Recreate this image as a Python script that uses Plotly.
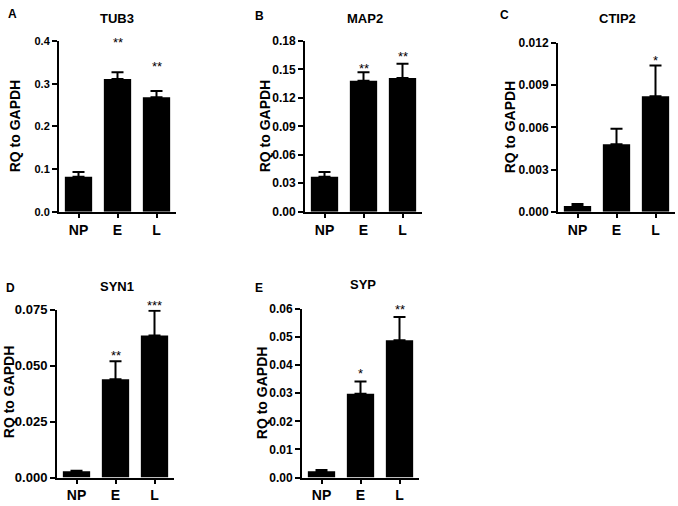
import plotly.graph_objects as go

categories = ["NP", "E", "L"]

genes = ["TUB3", "MAP2", "CTIP2", "SYN1", "SYP"]
letters = ["A", "B", "C", "D", "E"]

tub3_mean = [0.082, 0.311, 0.268]
tub3_top = [0.093, 0.327, 0.283]
map2_mean = [0.037, 0.138, 0.141]
map2_top = [0.042, 0.147, 0.156]
ctip2_mean = [0.0004, 0.0048, 0.0082]
ctip2_top = [0.00055, 0.0059, 0.0104]
syn1_mean = [0.0028, 0.044, 0.0635]
syn1_top = [0.0031, 0.052, 0.0745]
syp_mean = [0.0023, 0.0298, 0.0488]
syp_top = [0.0027, 0.0342, 0.0571]

tub3_stars = ["", "**", "**"]
map2_stars = ["", "**", "**"]
ctip2_stars = ["", "", "*"]
syn1_stars = ["", "**", "***"]
syp_stars = ["", "*", "**"]

# star label heights (data units)
tub3_star_y = [0, 0.400, 0.345]
map2_star_y = [0, 0.153, 0.166]
ctip2_star_y = [0, 0, 0.0109]
syn1_star_y = [0, 0.0555, 0.078]
syp_star_y = [0, 0.0376, 0.0603]

tub3_ticks = [0.0, 0.1, 0.2, 0.3, 0.4]
map2_ticks = [0.00, 0.03, 0.06, 0.09, 0.12, 0.15, 0.18]
ctip2_ticks = [0.000, 0.003, 0.006, 0.009, 0.012]
syn1_ticks = [0.000, 0.025, 0.050, 0.075]
syp_ticks = [0.00, 0.01, 0.02, 0.03, 0.04, 0.05, 0.06]

means = [tub3_mean, map2_mean, ctip2_mean, syn1_mean, syp_mean]
tops = [tub3_top, map2_top, ctip2_top, syn1_top, syp_top]
stars = [tub3_stars, map2_stars, ctip2_stars, syn1_stars, syp_stars]
star_ys = [tub3_star_y, map2_star_y, ctip2_star_y, syn1_star_y, syp_star_y]
ticks = [tub3_ticks, map2_ticks, ctip2_ticks, syn1_ticks, syp_ticks]
fmts = [".1f", ".2f", ".3f", ".3f", ".2f"]
tick_sizes = [11, 12, 12, 13, 12]

W, H = 678, 506
# panel boxes in pixels: (x0, x1, ytop, ybottom)
boxes = [(59, 176, 35, 211), (305, 422, 35, 211), (558, 675, 37, 211),
         (57, 174, 312, 485), (302, 419, 311, 485)]
title_pos = [(117, 12), (365, 12), (617, 12), (117, 288), (363, 286)]
letter_pos = [(12, 7), (259, 9), (504, 8), (10, 290), (259, 290)]
ytitle_pos = [(15, 123), (265, 123), (510, 123), (9, 397), (262, 398)]

FONT = "Liberation Sans"
fig = go.Figure()
annotations = []
for i in range(5):
    n = "" if i == 0 else str(i + 1)
    xa, ya = "x" + n, "y" + n
    err_plus = [t - m for t, m in zip(tops[i], means[i])]
    fig.add_trace(go.Bar(
        x=categories, y=means[i], xaxis=xa, yaxis=ya,
        marker=dict(color="black", line=dict(width=0)), width=0.7,
        error_y=dict(type="data", symmetric=False, array=err_plus,
                     arrayminus=[0, 0, 0], color="black", thickness=2, width=6),
        showlegend=False, hoverinfo="skip"))
    ymax = ticks[i][-1]
    for c, s, sy in zip(categories, stars[i], star_ys[i]):
        if s:
            annotations.append(dict(x=c, y=sy / ymax, xref=xa, yref=ya + " domain",
                                    xanchor="center", yanchor="middle",
                                    text=s, showarrow=False, yshift=-2,
                                    font=dict(family=FONT, size=13, color="black")))
    x0, x1, yt, yb = boxes[i]
    fig.layout["xaxis" + n] = dict(
        domain=[x0 / W, x1 / W], anchor=ya, range=[-0.5, 2.5],
        showline=True, linecolor="black", linewidth=2, ticks="outside",
        ticklen=4, tickwidth=2, tickcolor="black",
        showgrid=False, zeroline=False,
        tickfont=dict(family=FONT, size=14, color="black", weight="bold"),
        fixedrange=True)
    fig.layout["yaxis" + n] = dict(
        domain=[1 - yb / H, 1 - yt / H], anchor=xa,
        range=[0, ymax], tickvals=ticks[i], tickformat=fmts[i],
        showline=True, linecolor="black", linewidth=2, ticks="outside",
        ticklen=5, tickwidth=2, tickcolor="black", showgrid=False,
        zeroline=False, fixedrange=True,
        tickfont=dict(family=FONT, size=tick_sizes[i], color="black", weight="bold"))
    tx, ty = title_pos[i]
    annotations.append(dict(x=tx / W, y=1 - ty / H, xref="paper", yref="paper",
                            xanchor="center", yanchor="middle",
                            text=genes[i], showarrow=False,
                            font=dict(family=FONT, size=13, color="black", weight="bold")))
    lx, ly = letter_pos[i]
    annotations.append(dict(x=lx / W, y=1 - ly / H, xref="paper", yref="paper",
                            xanchor="center", yanchor="middle",
                            text=letters[i], showarrow=False,
                            font=dict(family=FONT, size=12, color="black", weight="bold")))
    yx, yy = ytitle_pos[i]
    annotations.append(dict(x=yx / W, y=1 - yy / H, xref="paper", yref="paper",
                            xanchor="center", yanchor="middle",
                            text="RQ to GAPDH", showarrow=False, textangle=-90,
                            font=dict(family=FONT, size=14, color="black", weight="bold")))

fig.update_layout(width=W, height=H, margin=dict(l=0, r=0, t=0, b=0),
                  paper_bgcolor="white", plot_bgcolor="white",
                  annotations=annotations, bargap=0.3)
fig.write_html("out.html", config={"displayModeBar": False},
               post_script="document.body.style.margin='0px';")
